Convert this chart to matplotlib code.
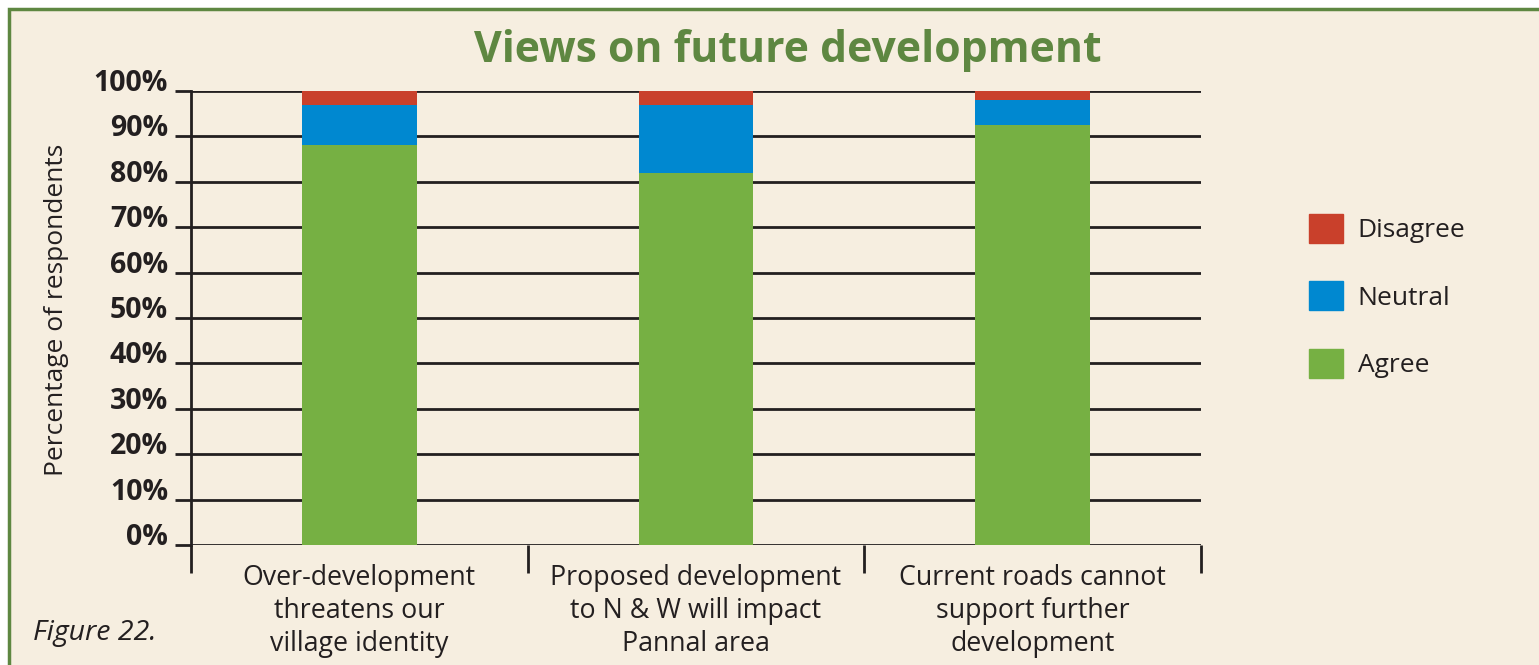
import matplotlib
matplotlib.use("Agg")
from matplotlib import pyplot as plt
from matplotlib.patches import Rectangle, Patch
import numpy as np

# data (percent of respondents)
categories = ["Over-development\nthreatens our\nvillage identity",
              "Proposed development\nto N & W will impact\nPannal area",
              "Current roads cannot\nsupport further\ndevelopment"]
agree = [88, 82, 92.5]
neutral = [9, 15, 5.5]
disagree = [3, 3, 2]
y_ticks = [0, 10, 20, 30, 40, 50, 60, 70, 80, 90, 100]

bg = "#f6eee0"
frame_green = "#5e8741"
ink = "#231f20"
c_agree = "#76b043"
c_neutral = "#0088d0"
c_disagree = "#c9402b"

plt.rcParams["font.family"] = ["Open Sans", "DejaVu Sans"]

fig = plt.figure(figsize=(15.39, 6.65), dpi=100)
fig.patch.set_facecolor("white")
# cream panel with a green frame (cut off at right and bottom like the source)
fig.patches.append(Rectangle((9 / 1539, -0.05), 1.1, 1 - 9 / 665 + 0.05,
                             transform=fig.transFigure, facecolor=bg,
                             edgecolor=frame_green, linewidth=2.5, zorder=-10))

ax = fig.add_axes([191 / 1539, 1 - 545 / 665, (1201 - 191) / 1539, (545 - 91) / 665])
ax.set_facecolor("none")

x = np.arange(len(categories))
w = 0.34
ax.bar(x, agree, w, color=c_agree, label="Agree", zorder=2)
ax.bar(x, neutral, w, bottom=agree, color=c_neutral, label="Neutral", zorder=2)
bottom2 = [a + n for a, n in zip(agree, neutral)]
ax.bar(x, disagree, w, bottom=bottom2, color=c_disagree, label="Disagree", zorder=2)

ax.set_xlim(-0.5, 2.5)
ax.set_ylim(0, 100)
ax.set_yticks(y_ticks)
ax.set_yticklabels([f"{v}%" for v in y_ticks], fontsize=20.5, fontweight="bold", color=ink)
for lab in ax.get_yticklabels():
    lab.set_verticalalignment("baseline")
ax.yaxis.grid(True, color=ink, linewidth=2, zorder=1)
ax.tick_params(axis="y", length=11.5, width=2, color=ink, pad=5)

# separators between categories as major ticks, labels on minor ticks
ax.set_xticks([-0.5, 0.5, 1.5, 2.5])
ax.set_xticklabels([])
ax.set_xticks(x, minor=True)
ax.set_xticklabels(categories, minor=True, fontsize=19.3, color=ink, linespacing=1.22)
ax.tick_params(axis="x", which="major", length=20, width=2, color=ink)
ax.tick_params(axis="x", which="minor", length=0, pad=14)

for s in ["top", "right", "bottom"]:
    ax.spines[s].set_visible(False)
ax.spines["left"].set_color(ink)
ax.spines["left"].set_linewidth(2)

ax.set_ylabel("Percentage of respondents", fontsize=19, color=ink, labelpad=18)
ax.yaxis.label.set_y(0.517)

fig.text(788 / 1539, 1 - 50 / 665, "Views on future development", ha="center", va="center",
         fontsize=30.8, fontweight="bold", color=frame_green)
fig.text(33 / 1539, 1 - 633 / 665, "Figure 22.", ha="left", va="center",
         fontsize=20.5, fontstyle="italic", color=ink)

handles = [Patch(color=c_disagree), Patch(color=c_neutral), Patch(color=c_agree)]
fig.legend(handles, ["Disagree", "Neutral", "Agree"], loc="upper left",
           bbox_to_anchor=(1309 / 1539, 1 - 214 / 665), frameon=False, fontsize=19,
           handlelength=1.3, handleheight=1.3, labelspacing=1.45, handletextpad=0.55,
           borderpad=0, borderaxespad=0, labelcolor=ink)

plt.savefig("out.png", dpi=100, facecolor=fig.get_facecolor())
